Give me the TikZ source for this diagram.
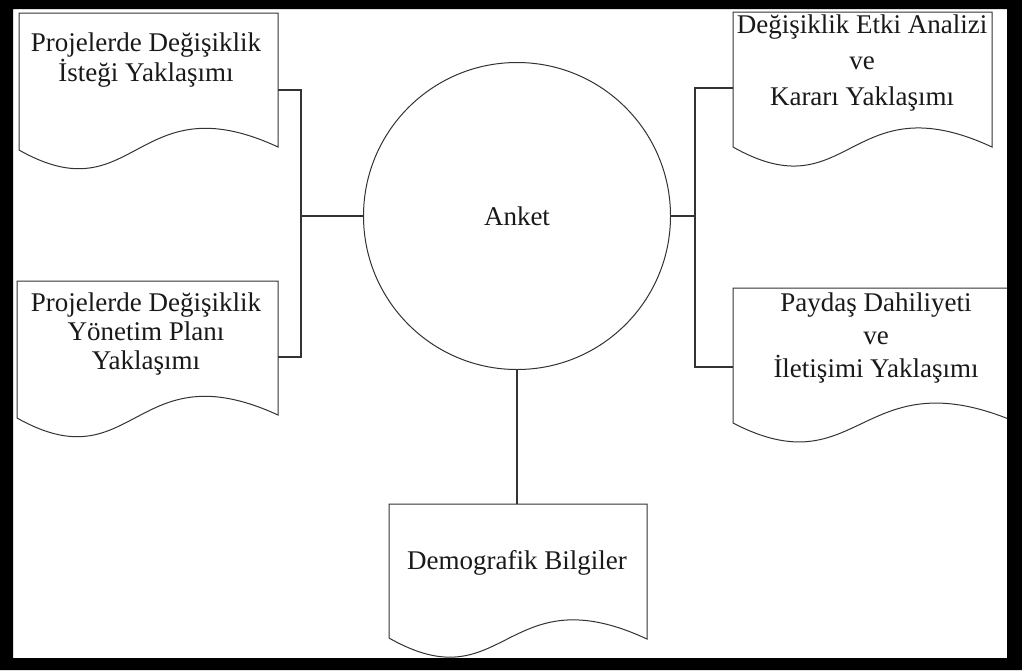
\documentclass[tikz,border=0pt]{standalone}
\usepackage{fontspec}
\setmainfont{Liberation Serif}
\usetikzlibrary{calc}
\tikzset{
  docline/.style={draw=black!80, line width=1pt, fill=white},
  conn/.style={draw=black!80, line width=1.1pt},
  lbl/.style={text=black!90, align=center, inner sep=0pt},
}
\newcommand{\docshape}[5]{%
  \pgfmathsetmacro{\xm}{#1+0.45*(#3-#1)}%
  \draw[docline] (#1,#2) -- (#3,#2) -- (#3,#5) .. controls (\xm,{#5-66}) and (\xm,{#4+66}) .. (#1,#4) -- cycle;}
\begin{document}
\begin{tikzpicture}[x=1pt,y=-1pt]
\useasboundingbox (0,0) rectangle (1022,670);
\fill[white] (0,0) rectangle (1022,670);
% document shapes
\docshape{19}{13}{278}{150}{147}
\docshape{17}{281}{278}{418}{415}
\docshape{733}{12}{992}{147}{147}
\docshape{733}{288}{1016}{423}{422}
\docshape{389}{504}{647}{638}{639}
% centre
\node[circle, draw=black!80, line width=1pt, minimum size=307pt, inner sep=0pt,
      font=\fontsize{27}{30}\selectfont, text=black!90] (anket) at (517,216) {Anket};
% labels
\node[lbl, font=\fontsize{27}{30}\selectfont] (tl) at (146,60) {Projelerde Değişiklik\\İsteği Yaklaşımı};
\node[lbl, font=\fontsize{27}{29}\selectfont] (bl) at (146,334) {Projelerde Değişiklik\\Yönetim Planı\\Yaklaşımı};
\node[lbl, font=\fontsize{27}{36}\selectfont] (tr) at (862,63) {Değişiklik Etki Analizi\\ve\\Kararı Yaklaşımı};
\node[lbl, font=\fontsize{27}{33}\selectfont] (br) at (876,338) {Paydaş Dahiliyeti\\ve\\İletişimi Yaklaşımı};
\node[lbl, font=\fontsize{27}{30}\selectfont] (db) at (517,563) {Demografik Bilgiler};
% ports and junctions
\coordinate (tlp) at (278,90);
\coordinate (blp) at (278,357);
\coordinate (jl) at (301,216);
\coordinate (trp) at (733,88);
\coordinate (brp) at (733,367);
\coordinate (jr) at (695,216);
\coordinate (dbp) at (517,504);
% connectors
\draw[conn] (tlp) -| (jl) |- (blp);
\draw[conn] (jl) -- (anket.west);
\draw[conn] (trp) -| (jr) |- (brp);
\draw[conn] (jr) -- (anket.east);
\draw[conn] (anket.south) -- (anket.south |- dbp);
% frame
\fill[black, even odd rule] (0,0) rectangle (1022,670) (13,9) rectangle (1007,658);
\end{tikzpicture}
\end{document}
